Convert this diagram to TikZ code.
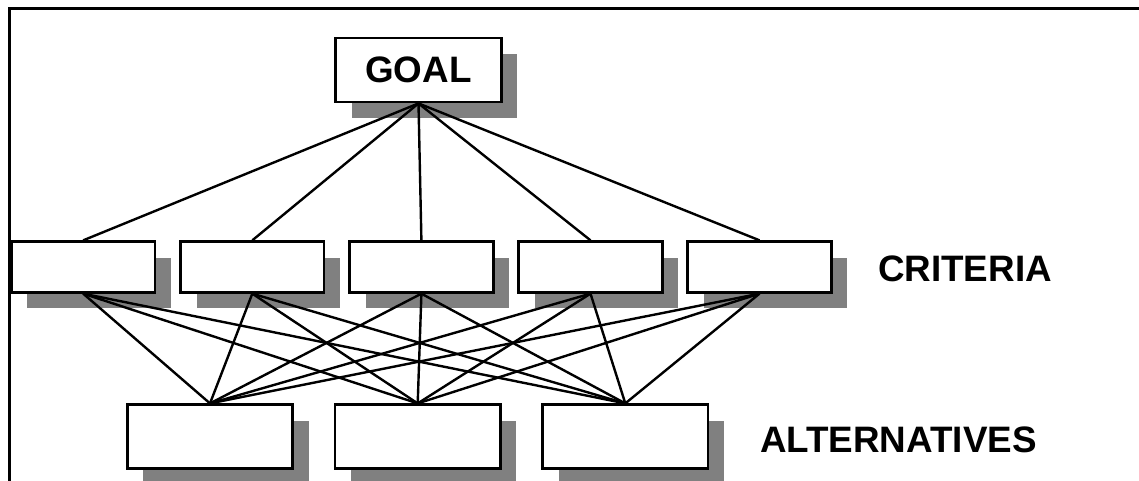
\documentclass[tikz,border=0pt]{standalone}
\usepackage{fontspec}
\setmainfont{Liberation Sans}
\usetikzlibrary{shadows}

\begin{document}
\begin{tikzpicture}[x=1pt,y=-1pt,
    box/.style={draw, line width=2.8pt, fill=white, minimum width=143.5pt, minimum height=50.5pt, inner sep=0pt,
      drop shadow={shadow xshift=16pt, shadow yshift=-16pt, fill=gray, opacity=1}},
    bigbox/.style={box, minimum width=165.5pt, minimum height=64pt},
    headtext/.style={font=\fontsize{36.8}{40}\selectfont\bfseries},
    link/.style={line width=2.4pt}]
        \useasboundingbox (0,0) rectangle (1139,481);
        \draw[line width=2.4pt] (9.3,481) -- (9.3,8.7) -- (1139,8.7);   % frame

        \node[bigbox, headtext] (goal) at (418.5,70) {GOAL};

        % criteria
        \node[box] (c1) at (83.2,267) {};
        \node[box] (c2) at (252.3,267) {};
        \node[box] (c3) at (421.4,267) {};
        \node[box] (c4) at (590.5,267) {};
        \node[box] (c5) at (759.5,267) {};
        \node[headtext, anchor=base west] (crit) at (874.5,281.7) {CRITERIA};

        % alternatives
        \node[bigbox] (a1) at (210,436.8) {};
        \node[bigbox] (a2) at (417.7,436.8) {};
        \node[bigbox] (a3) at (625.3,436.8) {};
        \node[headtext, anchor=base west] (alt) at (756.5,452.3) {ALTERNATIVES};

        \foreach \i in {1,...,5}
            \draw[link] (goal.south) -- (c\i.north);
        \foreach \i in {1,...,5}
            \foreach \j in {1,2,3}
                \draw[link] (c\i.south) -- (a\j.north);
\end{tikzpicture}
\end{document}
